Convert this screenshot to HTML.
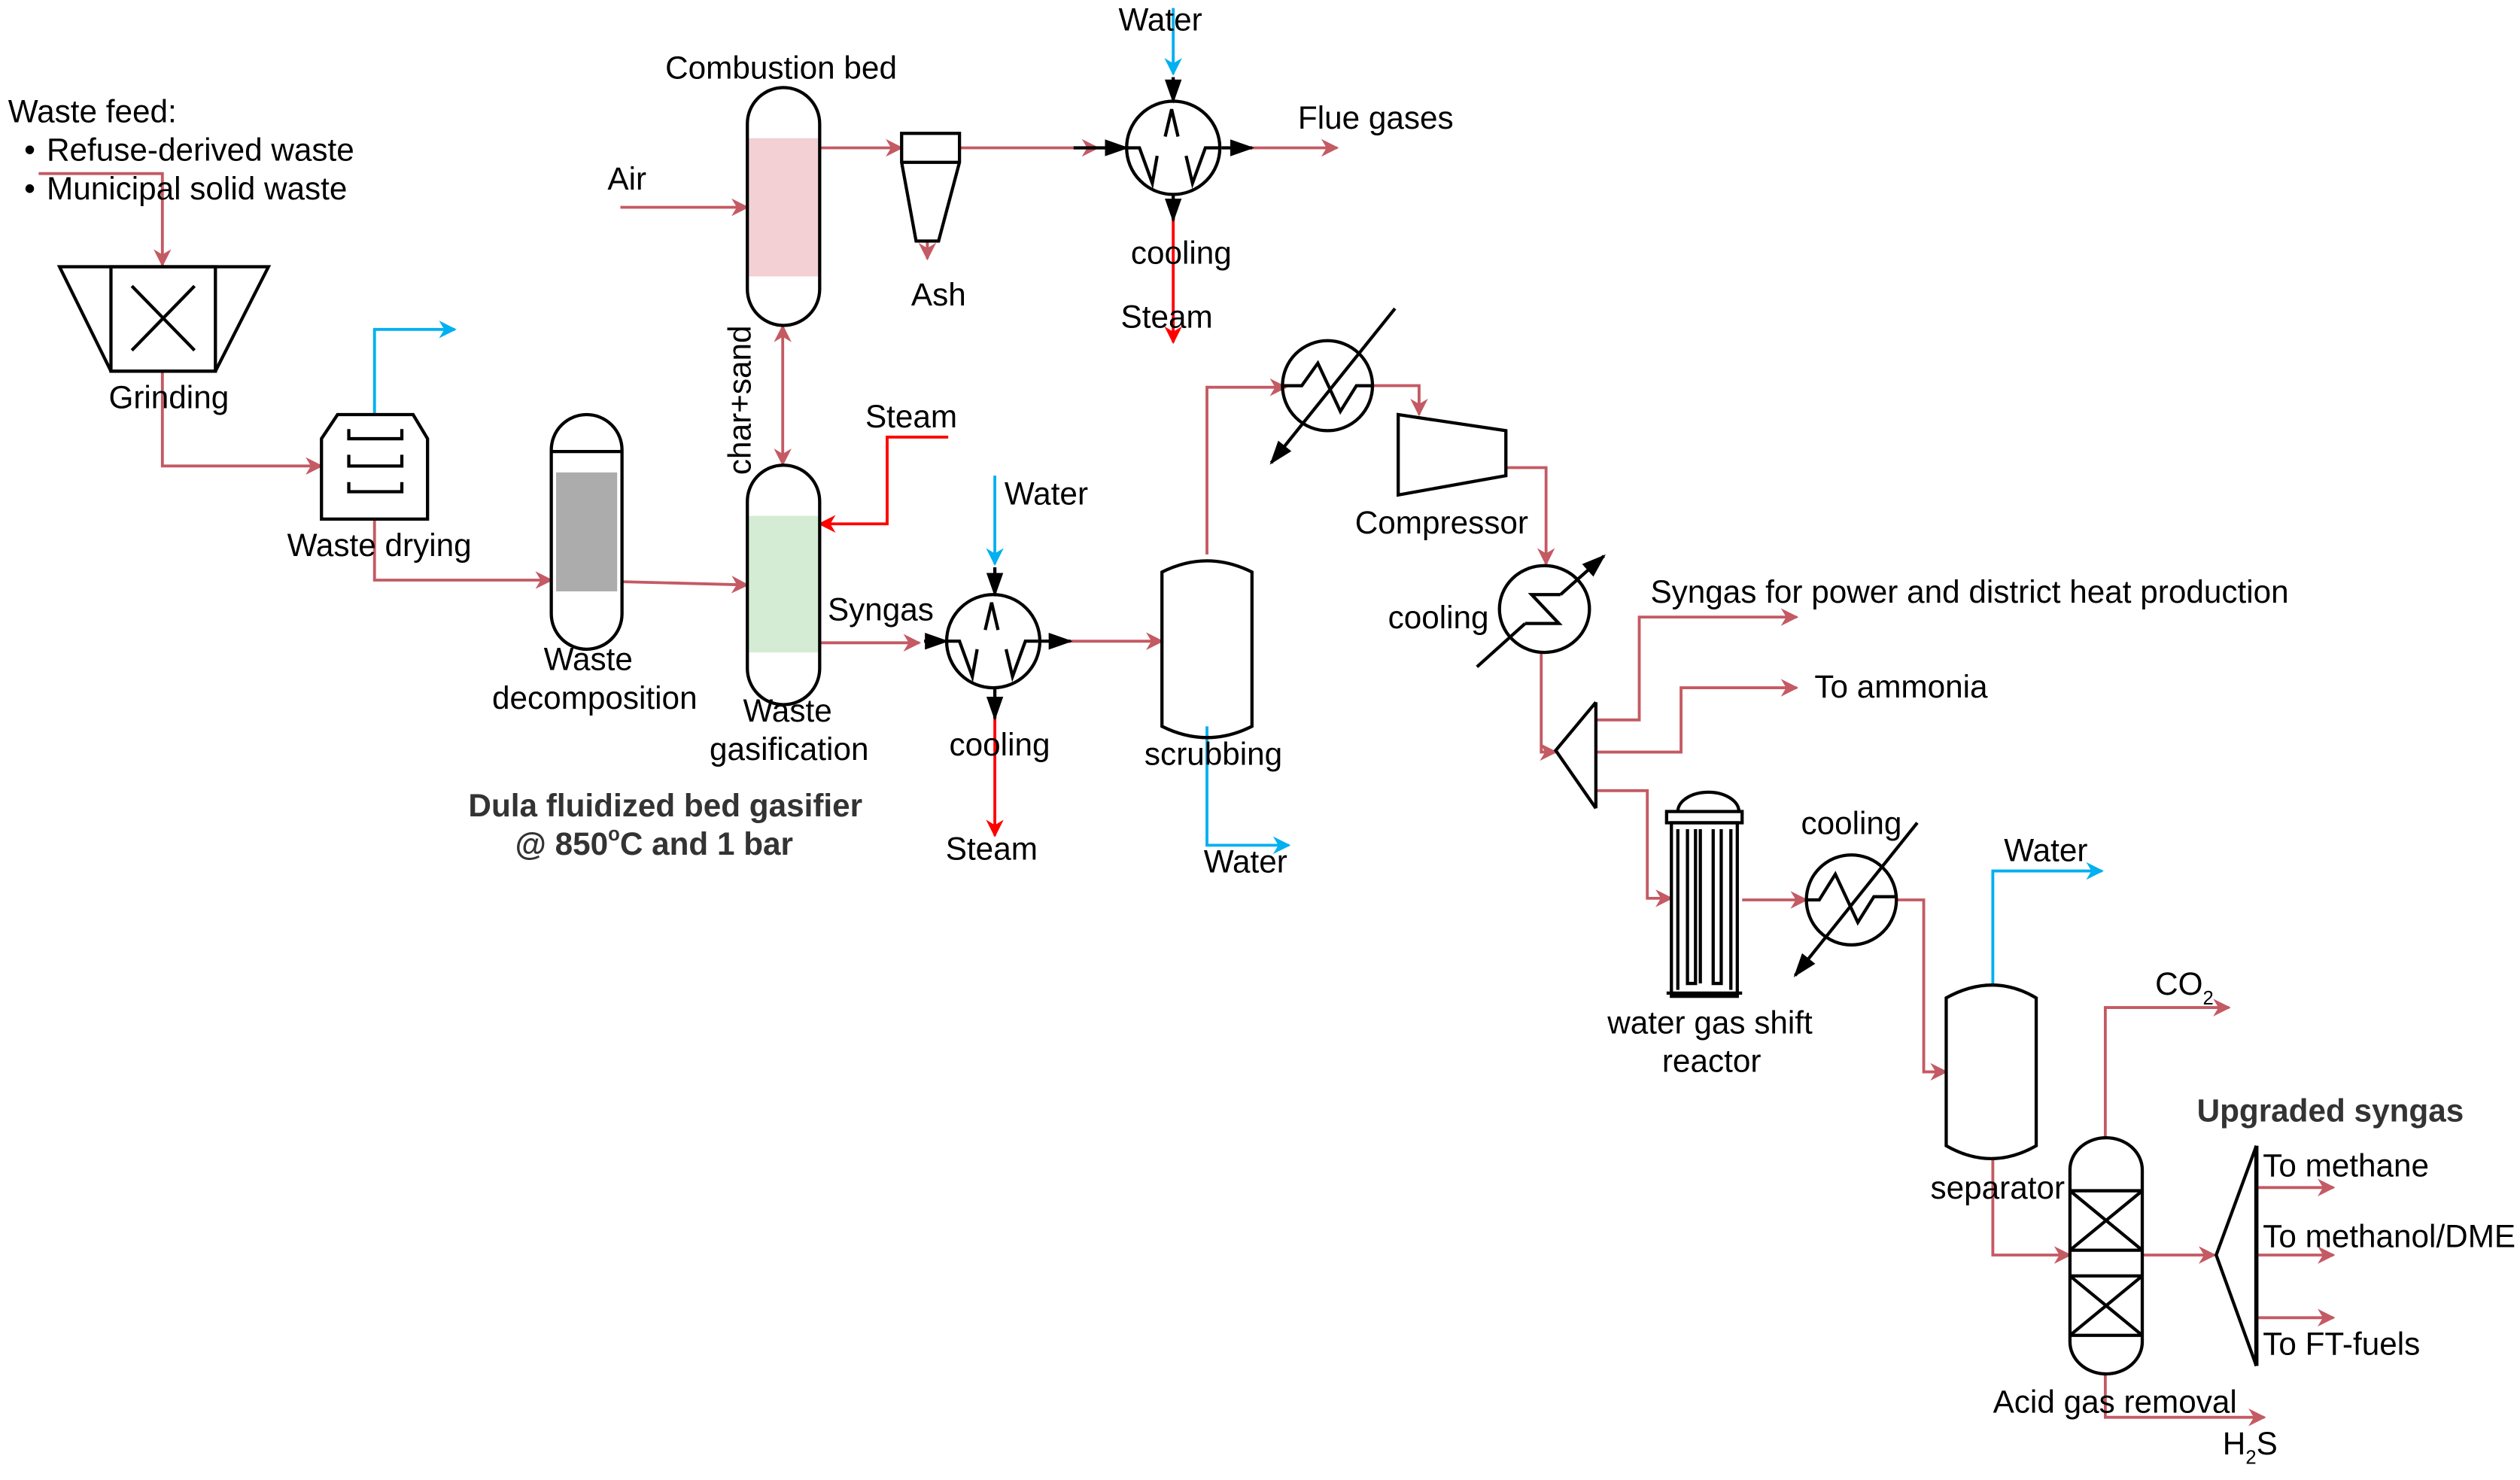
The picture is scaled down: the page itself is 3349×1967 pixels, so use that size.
<!DOCTYPE html>
<html><head><meta charset="utf-8"><style>
html,body{margin:0;padding:0;background:#fff;}
svg{display:block;}
text{font-family:"Liberation Sans",Arial,sans-serif;font-size:19.8px;fill:#000;}
.b{font-weight:bold;fill:#333;}
</style></head><body>
<svg width="3349" height="1967" viewBox="0 0 1568 921" xmlns="http://www.w3.org/2000/svg">
<defs>
<marker id="ar" viewBox="0 0 10 10" refX="9" refY="5" markerWidth="11" markerHeight="11" markerUnits="userSpaceOnUse" orient="auto"><path d="M0,0 L10,5 L0,10 L3,5 z" fill="#c45a63"/></marker>
<marker id="ab" viewBox="0 0 10 10" refX="9" refY="5" markerWidth="11" markerHeight="11" markerUnits="userSpaceOnUse" orient="auto"><path d="M0,0 L10,5 L0,10 L3,5 z" fill="#00b0f0"/></marker>
<marker id="arr" viewBox="0 0 10 10" refX="9" refY="5" markerWidth="11" markerHeight="11" markerUnits="userSpaceOnUse" orient="auto"><path d="M0,0 L10,5 L0,10 L3,5 z" fill="#ff0000"/></marker>
<marker id="ak" viewBox="0 0 10 10" refX="9" refY="5" markerWidth="15" markerHeight="15" markerUnits="userSpaceOnUse" orient="auto"><path d="M0,1.5 L10,5 L0,8.5 z" fill="#000"/></marker>
<marker id="ar0" viewBox="0 0 10 10" refX="1" refY="5" markerWidth="11" markerHeight="11" markerUnits="userSpaceOnUse" orient="auto"><path d="M10,0 L0,5 L10,10 L7,5 z" fill="#c45a63"/></marker>
</defs>

<g fill="none" stroke="#c45a63" stroke-width="1.8">
<polyline points="24,108 101,108 101,165" marker-end="url(#ar)"/>
<polyline points="101,231 101,290 200,290" marker-end="url(#ar)"/>
<polyline points="233,323 233,361 343,361" marker-end="url(#ar)"/>
<polyline points="387,362 465,364" marker-end="url(#ar)"/>
<polyline points="386,129 465,129" marker-end="url(#ar)"/>
<line x1="487" y1="203" x2="487" y2="289" marker-end="url(#ar)" marker-start="url(#ar0)"/>
<polyline points="510,92 561,92" marker-end="url(#ar)"/>
<polyline points="577,150 577,161" marker-end="url(#ar)"/>
<polyline points="597,92 683,92" marker-end="url(#ar)"/>
<polyline points="778,92 832,92" marker-end="url(#ar)"/>
<polyline points="510,400 572,400" marker-end="url(#ar)"/>
<polyline points="665,399 723,399" marker-end="url(#ar)"/>
<polyline points="751,345 751,241 800,241" marker-end="url(#ar)"/>
<polyline points="854,240 883,240 883,258" marker-end="url(#ar)"/>
<polyline points="937,291 962,291 962,351" marker-end="url(#ar)"/>
<polyline points="959,406 959,468 968,468" marker-end="url(#ar)"/>
<polyline points="993,448 1020,448 1020,384 1118,384" marker-end="url(#ar)"/>
<polyline points="993,468 1046,468 1046,428 1118,428" marker-end="url(#ar)"/>
<polyline points="993,492 1025,492 1025,559 1040,559" marker-end="url(#ar)"/>
<polyline points="1084,560 1124,560" marker-end="url(#ar)"/>
<polyline points="1180,560 1197,560 1197,667 1211,667" marker-end="url(#ar)"/>
<polyline points="1240,721 1240,781 1288,781" marker-end="url(#ar)"/>
<polyline points="1310,707 1310,627 1387,627" marker-end="url(#ar)"/>
<polyline points="1310,855 1310,882 1409,882" marker-end="url(#ar)"/>
<polyline points="1333,781 1378,781" marker-end="url(#ar)"/>
<polyline points="1405,739 1452,739" marker-end="url(#ar)"/>
<polyline points="1405,781 1452,781" marker-end="url(#ar)"/>
<polyline points="1405,820 1452,820" marker-end="url(#ar)"/>
</g>
<g fill="none" stroke="#00b0f0" stroke-width="1.8">
<polyline points="233,257 233,205 283,205" marker-end="url(#ab)"/>
<polyline points="730,5 730,46" marker-end="url(#ab)"/>
<polyline points="619,296 619,351" marker-end="url(#ab)"/>
<polyline points="751,452 751,526 802,526" marker-end="url(#ab)"/>
<polyline points="1240,613 1240,542 1308,542" marker-end="url(#ab)"/>
</g>
<g fill="none" stroke="#ff0000" stroke-width="1.8">
<polyline points="590,272 552,272 552,326 510,326" marker-end="url(#arr)"/>
<polyline points="730,135 730,213" marker-end="url(#arr)"/>
<polyline points="619,445 619,520" marker-end="url(#arr)"/>
</g>

<g fill="none" stroke="#000" stroke-width="2">
<polygon points="37,166 167,166 134,231 69,231"/>
<rect x="69" y="166" width="65" height="65"/>
<line x1="82" y1="178" x2="121" y2="218"/><line x1="121" y1="178" x2="82" y2="218"/>
<polygon points="210,258 257,258 266,273 266,323 200,323 200,273"/>
<path d="M217,267 v6 h33 v-6 M217,283 v7 h33 v-7 M217,300 v6 h33 v-6"/>
<rect x="346" y="294" width="38" height="74" fill="#acacac" stroke="none"/>
<path d="M343,280 a22,22 0 0 1 44,0 v102 a22,22 0 0 1 -44,0 z"/>
<line x1="343" y1="281" x2="387" y2="281"/>
<rect x="466" y="86" width="43" height="86" fill="#f2d0d3" stroke="none"/>
<path d="M465,77 a22.5,22.5 0 0 1 45,0 v103 a22.5,22.5 0 0 1 -45,0 z"/>
<rect x="466" y="321" width="43" height="85" fill="#d5ecd4" stroke="none"/>
<path d="M465,312 a22.5,22.5 0 0 1 45,0 v104 a22.5,22.5 0 0 1 -45,0 z"/>
<path d="M561,83 h36 v18 l-13,49 h-14 l-9,-49 z"/>
<line x1="561" y1="101" x2="597" y2="101"/>
<circle cx="730" cy="92" r="29"/>
<path d="M725,85 l4,-17 l4,17 M701,92 h8 l8,22 l3,-17 M738,97 l4,17 l8,-22 h8"/>
<circle cx="618" cy="399" r="29"/>
<path d="M613,392 l4,-17 l4,17 M589,399 h8 l8,22 l3,-17 M626,404 l4,17 l8,-22 h8"/>
<path d="M723,356 q28,-14 56,0 v96 q-28,14 -56,0 z"/>
<circle cx="826" cy="240" r="28"/>
<path d="M798,240 h12 l10,-14 l14,30 l10,-16 h10"/>
<polygon points="870,258 937,268 937,296 870,308"/>
<ellipse cx="961" cy="379" rx="28" ry="27"/>
<path d="M971,370 h-18 l17,18 h-21"/>
<polyline points="993,437 968,467 993,503"/>
<line x1="993" y1="437" x2="993" y2="503"/>
<path d="M1044,505 a19,12 0 0 1 38,0"/>
<rect x="1037" y="505" width="47" height="7"/>
<rect x="1040" y="512" width="41" height="108"/>
<path d="M1044,516 v100 M1077,516 v100"/>
<path d="M1050,516 v96 h5 v-96 M1066,516 v96 h5 v-96 M1058,516 v96"/>
<line x1="1037" y1="618" x2="1084" y2="618"/>
<circle cx="1152" cy="560" r="28"/>
<path d="M1124,560 h8 l10,-16 l14,30 l10,-16 h14"/>
<path d="M1211,621 q29,-16 56,0 v92 q-28,16 -56,0 z"/>
<path d="M1288,728 a22.5,20 0 0 1 45,0 v107 a22.5,20 0 0 1 -45,0 z"/>
<path d="M1288,741 h45 M1288,778 h45 M1288,794 h45 M1288,831 h45"/>
<path d="M1288,741 l45,37 M1333,741 l-45,37 M1288,794 l45,37 M1333,794 l-45,37"/>
<polyline points="1404,713 1379,781 1404,850"/>
<line x1="1404" y1="713" x2="1404" y2="850" stroke-width="2.6"/>
</g>
<g stroke="#000" stroke-width="2" fill="none">
<line x1="730" y1="48" x2="730" y2="63" marker-end="url(#ak)"/>
<line x1="760" y1="92" x2="779" y2="92" marker-end="url(#ak)"/>
<line x1="668" y1="92" x2="701" y2="92" marker-end="url(#ak)"/>
<line x1="730" y1="121" x2="730" y2="137" marker-end="url(#ak)"/>
<line x1="619" y1="353" x2="619" y2="370" marker-end="url(#ak)"/>
<line x1="575" y1="399" x2="589" y2="399" marker-end="url(#ak)"/>
<line x1="647" y1="399" x2="666" y2="399" marker-end="url(#ak)"/>
<line x1="619" y1="428" x2="619" y2="447" marker-end="url(#ak)"/>
<line x1="868" y1="192" x2="791" y2="288" marker-end="url(#ak)"/>
<line x1="971" y1="370" x2="998" y2="346" marker-end="url(#ak)"/>
<line x1="949" y1="388" x2="919" y2="415"/>
<line x1="1193" y1="512" x2="1117" y2="607" marker-end="url(#ak)"/>
</g>

<text x="5" y="76">Waste feed:</text>
<text x="15" y="100">•</text><text x="29" y="100">Refuse-derived waste</text>
<text x="15" y="124">•</text><text x="29" y="124">Municipal solid waste</text>
<text x="105" y="254" text-anchor="middle">Grinding</text>
<text x="236" y="346" text-anchor="middle">Waste drying</text>
<text x="366" y="417" text-anchor="middle">Waste</text>
<text x="370" y="441" text-anchor="middle">decomposition</text>
<text x="490" y="449" text-anchor="middle">Waste</text>
<text x="491" y="473" text-anchor="middle">gasification</text>
<text x="486" y="49" text-anchor="middle">Combustion bed</text>
<text x="378" y="118">Air</text>
<text transform="translate(467,249) rotate(-90)" text-anchor="middle">char+sand</text>
<text x="567" y="266" text-anchor="middle">Steam</text>
<text x="584" y="190" text-anchor="middle">Ash</text>
<text x="722" y="19" text-anchor="middle">Water</text>
<text x="856" y="80" text-anchor="middle">Flue gases</text>
<text x="735" y="164" text-anchor="middle">cooling</text>
<text x="726" y="204" text-anchor="middle">Steam</text>
<text x="548" y="386" text-anchor="middle">Syngas</text>
<text x="651" y="314" text-anchor="middle">Water</text>
<text x="622" y="470" text-anchor="middle">cooling</text>
<text x="617" y="535" text-anchor="middle">Steam</text>
<text x="755" y="476" text-anchor="middle">scrubbing</text>
<text x="775" y="543" text-anchor="middle">Water</text>
<text x="897" y="332" text-anchor="middle">Compressor</text>
<text x="895" y="391" text-anchor="middle">cooling</text>
<text x="1027" y="375">Syngas for power and district heat production</text>
<text x="1129" y="434">To ammonia</text>
<text x="1152" y="519" text-anchor="middle">cooling</text>
<text x="1064" y="643" text-anchor="middle">water gas shift</text>
<text x="1065" y="667" text-anchor="middle">reactor</text>
<text x="1273" y="536" text-anchor="middle">Water</text>
<text x="1243" y="746" text-anchor="middle">separator</text>
<text x="1341" y="619">CO<tspan font-size="12" dy="6">2</tspan></text>
<text x="1316" y="879" text-anchor="middle">Acid gas removal</text>
<text x="1383" y="905">H<tspan font-size="12" dy="6">2</tspan><tspan dy="-6">S</tspan></text>
<text x="1450" y="698" text-anchor="middle" class="b">Upgraded syngas</text>
<text x="1408" y="732">To methane</text>
<text x="1408" y="776">To methanol/DME</text>
<text x="1408" y="843">To FT-fuels</text>
<text x="414" y="508" text-anchor="middle" class="b">Dula fluidized bed gasifier</text>
<text x="407" y="532" text-anchor="middle" class="b">@ 850<tspan font-size="12" dy="-9">o</tspan><tspan dy="9">C and 1 bar</tspan></text>
</svg>
</body></html>
